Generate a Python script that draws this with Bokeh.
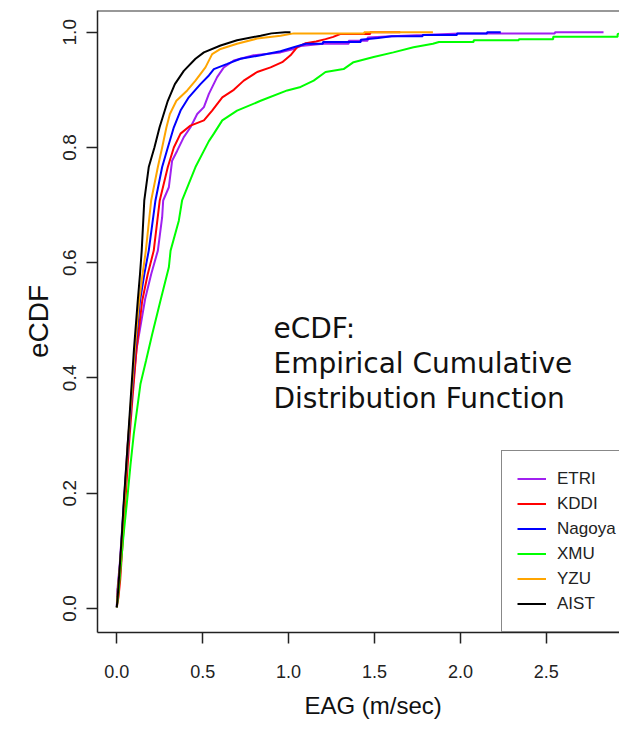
from bokeh.plotting import figure
from bokeh.models import Range1d, FixedTicker, Legend, LegendItem, Label, Span, PrintfTickFormatter, Title
from bokeh.embed import file_html
from bokeh.resources import INLINE

# ---- data ----
series_names = ["ETRI", "KDDI", "Nagoya", "XMU", "YZU", "AIST"]
series_colors = ["#A020F0", "#FF0000", "#0000FF", "#00FF00", "#FFA500", "#000000"]

etri_x = [0, 0.003, 0.018, 0.042, 0.062, 0.085, 0.115, 0.165, 0.2, 0.239, 0.264, 0.27, 0.303, 0.322, 0.351, 0.39, 0.429, 0.468, 0.507, 0.536, 0.584, 0.623, 0.681, 0.797, 0.953, 1.03, 1.07, 1.2, 1.35, 1.35, 1.46, 1.46, 1.6, 1.78, 2.0, 2.55, 2.55, 2.833]
etri_y = [0.002, 0.03, 0.08, 0.187, 0.28, 0.36, 0.45, 0.537, 0.58, 0.621, 0.679, 0.708, 0.731, 0.777, 0.794, 0.818, 0.835, 0.858, 0.87, 0.893, 0.922, 0.939, 0.951, 0.96, 0.965, 0.971, 0.976, 0.98, 0.98, 0.985, 0.985, 0.991, 0.993, 0.995, 0.998, 0.998, 1.0, 1.0]

kddi_x = [0, 0.01, 0.02, 0.05, 0.07, 0.09, 0.115, 0.148, 0.18, 0.215, 0.25, 0.297, 0.332, 0.371, 0.429, 0.507, 0.555, 0.614, 0.681, 0.739, 0.817, 0.895, 0.963, 1.011, 1.05, 1.1, 1.16, 1.215, 1.26, 1.3, 1.475, 1.475, 1.65]
kddi_y = [0.002, 0.02, 0.05, 0.187, 0.28, 0.36, 0.45, 0.534, 0.58, 0.621, 0.708, 0.766, 0.8, 0.824, 0.838, 0.847, 0.864, 0.887, 0.9, 0.916, 0.931, 0.939, 0.948, 0.96, 0.974, 0.981, 0.984, 0.988, 0.992, 0.997, 0.997, 1.0, 1.0]

nagoya_x = [0, 0.005, 0.02, 0.043, 0.065, 0.085, 0.108, 0.135, 0.16, 0.186, 0.225, 0.264, 0.297, 0.332, 0.371, 0.419, 0.487, 0.536, 0.565, 0.643, 0.72, 0.837, 0.953, 1.03, 1.1, 1.2, 1.2, 1.42, 1.42, 1.52, 1.6, 1.78, 1.78, 1.98, 1.98, 2.155, 2.155, 2.235]
nagoya_y = [0.002, 0.03, 0.08, 0.187, 0.28, 0.36, 0.45, 0.534, 0.58, 0.621, 0.708, 0.766, 0.8, 0.835, 0.864, 0.887, 0.91, 0.925, 0.936, 0.945, 0.954, 0.96, 0.967, 0.974, 0.98, 0.98, 0.983, 0.983, 0.987, 0.99, 0.993, 0.993, 0.995, 0.995, 0.998, 0.998, 1.0, 1.0]

xmu_x = [0, 0.01, 0.022, 0.04, 0.06, 0.08, 0.099, 0.12, 0.138, 0.17, 0.206, 0.254, 0.303, 0.313, 0.361, 0.38, 0.458, 0.536, 0.565, 0.614, 0.7, 0.837, 0.992, 1.07, 1.146, 1.215, 1.32, 1.378, 1.495, 1.61, 1.727, 1.84, 1.875, 2.077, 2.077, 2.34, 2.34, 2.54, 2.54, 2.915, 2.915, 3.0]
xmu_y = [0.002, 0.03, 0.071, 0.13, 0.187, 0.25, 0.303, 0.35, 0.39, 0.43, 0.476, 0.534, 0.592, 0.621, 0.673, 0.708, 0.766, 0.811, 0.824, 0.847, 0.864, 0.881, 0.899, 0.905, 0.916, 0.931, 0.936, 0.948, 0.957, 0.965, 0.974, 0.98, 0.983, 0.983, 0.986, 0.986, 0.988, 0.988, 0.992, 0.992, 0.997, 1.0]

yzu_x = [0, 0.005, 0.02, 0.045, 0.063, 0.083, 0.105, 0.13, 0.15, 0.169, 0.2, 0.239, 0.264, 0.289, 0.309, 0.347, 0.41, 0.458, 0.516, 0.555, 0.604, 0.7, 0.817, 0.953, 1.03, 1.44, 1.44, 1.84]
yzu_y = [0.002, 0.03, 0.08, 0.187, 0.28, 0.36, 0.45, 0.534, 0.58, 0.621, 0.708, 0.766, 0.8, 0.835, 0.858, 0.881, 0.899, 0.916, 0.939, 0.962, 0.971, 0.98, 0.989, 0.994, 0.998, 0.998, 1.0, 1.0]

aist_x = [0, 0.005, 0.017, 0.03, 0.041, 0.06, 0.08, 0.1, 0.122, 0.135, 0.145, 0.16, 0.186, 0.219, 0.249, 0.297, 0.338, 0.39, 0.458, 0.507, 0.604, 0.7, 0.837, 0.9, 0.98, 1.011]
aist_y = [0.002, 0.02, 0.071, 0.13, 0.187, 0.27, 0.36, 0.45, 0.534, 0.58, 0.621, 0.708, 0.766, 0.8, 0.835, 0.881, 0.91, 0.933, 0.954, 0.965, 0.977, 0.986, 0.994, 0.998, 1.0, 1.0]

x_ticks = [0.0, 0.5, 1.0, 1.5, 2.0, 2.5]
y_ticks = [0.0, 0.2, 0.4, 0.6, 0.8, 1.0]

x_title = "EAG (m/sec)"
y_title = "eCDF"
note_lines = ["eCDF:", "Empirical Cumulative", "Distribution Function"]

series_x = [etri_x, kddi_x, nagoya_x, xmu_x, yzu_x, aist_x]
series_y = [etri_y, kddi_y, nagoya_y, xmu_y, yzu_y, aist_y]

# ---- figure ----
p = figure(width=619, height=732, output_backend="svg", toolbar_location=None,
           x_range=Range1d(-0.1123, 2.926), y_range=Range1d(-0.0417, 1.0377),
           min_border_left=97, min_border_right=0, min_border_top=10, min_border_bottom=100)
p.grid.visible = False
p.outline_line_color = None
p.background_fill_color = "white"
p.border_fill_color = "white"

sans = "Liberation Sans"

for ax in (p.xaxis[0], p.yaxis[0]):
    ax.axis_line_width = 1.5
    ax.axis_line_color = "#222222"
    ax.major_tick_in = 0
    ax.major_tick_out = 11
    ax.major_tick_line_width = 1.5
    ax.major_tick_line_color = "#222222"
    ax.minor_tick_line_color = None
    ax.formatter = PrintfTickFormatter(format="%.1f")
    ax.major_label_text_color = "#222222"

p.xaxis.ticker = FixedTicker(ticks=x_ticks)
p.yaxis.ticker = FixedTicker(ticks=y_ticks)
p.xaxis.major_label_text_font = sans
p.xaxis.major_label_text_font_size = "18px"
p.xaxis.major_label_standoff = 21

p.yaxis.major_label_orientation = "vertical"
p.yaxis.major_label_text_font = sans
p.yaxis.major_label_text_font_size = "19px"
p.yaxis.major_label_standoff = 10
p.yaxis.axis_label = y_title
p.yaxis.axis_label_text_font = sans
p.yaxis.axis_label_text_font_style = "normal"
p.yaxis.axis_label_text_font_size = "28px"
p.yaxis.axis_label_text_color = "#111111"
p.yaxis.axis_label_standoff = 7

# top border line of the plot box
p.add_layout(Span(location=1.0377, dimension="width", line_color="#333333", line_width=2))

renderers = []
for xs, ys, c in zip(series_x, series_y, series_colors):
    r = p.line(xs, ys, line_color=c, line_width=2)
    renderers.append(r)

legend = Legend(items=[LegendItem(label=n, renderers=[r]) for n, r in zip(series_names, renderers)],
                location=(404, 0), orientation="vertical")
legend.border_line_color = "#111111"
legend.border_line_width = 1.5
legend.background_fill_color = "white"
legend.background_fill_alpha = 1.0
legend.padding = 15
legend.spacing = 0
legend.margin = 0
legend.glyph_width = 29
legend.glyph_height = 25
legend.label_height = 25
legend.label_standoff = 11
legend.label_text_font = sans
legend.label_text_font_size = "17px"
legend.label_text_color = "#222222"
p.add_layout(legend)

# x axis title, placed as in the reference (centred on the original, wider plot region)
p.add_layout(Title(text=x_title, align="left", offset=207, standoff=19, vertical_align="bottom",
                   text_font=sans, text_font_size="24px", text_font_style="normal",
                   text_color="#111111"), "below")

note_y = [0.4856, 0.4248, 0.364]
for t, yy in zip(note_lines, note_y):
    p.add_layout(Label(x=0.912, y=yy, text=t, text_align="left", text_baseline="alphabetic",
                       text_font="DejaVu Sans", text_font_size="28px", text_color="#111111"))

open("out.html", "w").write(file_html(p, INLINE))
